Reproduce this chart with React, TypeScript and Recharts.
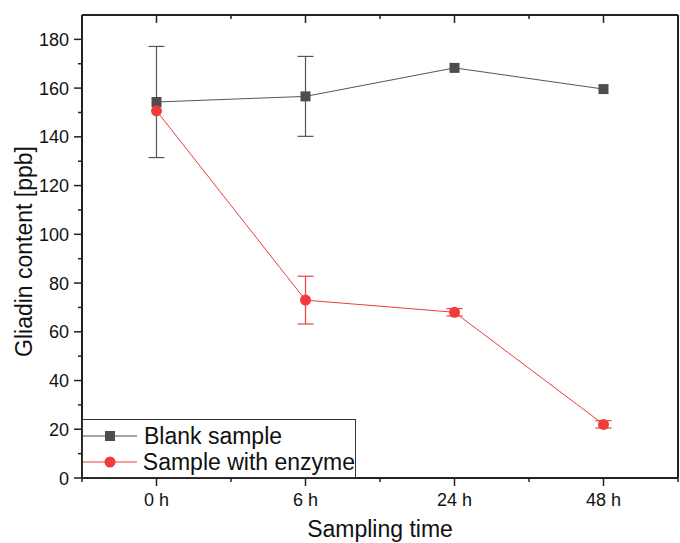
import { LineChart, Line, XAxis, YAxis, ErrorBar, Legend } from 'recharts'

const categories = ['0 h', '6 h', '24 h', '48 h']
const blank = [154.3, 156.6, 168.3, 159.6]
const blankErr = [22.8, 16.4, 0, 0]
const enzyme = [150.7, 73.0, 68.0, 22.0]
const enzymeErr = [0, 9.8, 1.5, 1.5]

const yTicks = [0, 10, 20, 30, 40, 50, 60, 70, 80, 90, 100, 110, 120, 130, 140, 150, 160, 170, 180]
const xTicks = [-0.5, 0, 0.5, 1, 1.5, 2, 2.5, 3, 3.5]

const BC = '#4d4d4d', RC = '#f03c3c', AX = '#222'
const FONT = '"Liberation Sans", Arial, sans-serif'

const data = categories.map((c, i) => ({
  x: i, name: c,
  blank: blank[i], blankErr: blankErr[i],
  enzyme: enzyme[i], enzymeErr: enzymeErr[i],
}))

const isMajorY = (v: number) => v % 20 === 0
const isMajorX = (v: number) => Number.isInteger(v)

const LeftTick = ({ x, y, payload }: any) => {
  const major = isMajorY(payload.value)
  return (
    <g>
      <line x1={x} x2={x - (major ? 8 : 4)} y1={y} y2={y} stroke={AX} strokeWidth={1.5} />
      {major && <text x={x - 13} y={y} dy={6.5} textAnchor="end" fontSize={18} fill="#111" fontFamily={FONT}>{payload.value}</text>}
    </g>
  )
}

const RightTick = ({ x, y, payload }: any) => {
  const major = isMajorY(payload.value)
  return <line x1={x} x2={x - (major ? 8 : 4)} y1={y} y2={y} stroke={AX} strokeWidth={1.5} />
}

const BottomTick = ({ x, y, payload }: any) => {
  const major = isMajorX(payload.value)
  return (
    <g>
      <line x1={x} x2={x} y1={y} y2={y + (major ? 8 : 4)} stroke={AX} strokeWidth={1.5} />
      {major && <text x={x} y={y + 28} textAnchor="middle" fontSize={18} fill="#111" fontFamily={FONT}>{categories[payload.value]}</text>}
    </g>
  )
}

const TopTick = ({ x, y, payload }: any) => {
  const major = isMajorX(payload.value)
  return <line x1={x} x2={x} y1={y} y2={y + (major ? 8 : 4)} stroke={AX} strokeWidth={1.5} />
}

const YLabel = ({ viewBox }: any) => {
  const cx = viewBox.x + 24
  const cy = viewBox.y + viewBox.height / 2 + 5
  return (
    <text x={cx} y={cy} dy={8} transform={`rotate(-90, ${cx}, ${cy})`} textAnchor="middle"
      fontSize={23} fill="#111" fontFamily={FONT}>Gliadin content [ppb]</text>
  )
}

const Square = ({ cx, cy }: any) => <rect x={cx - 5} y={cy - 5} width={10} height={10} fill={BC} />
const Dot = ({ cx, cy }: any) => <circle cx={cx} cy={cy} r={5.5} fill={RC} />

const legendItems = [
  { label: 'Blank sample', color: BC, shape: 'square' },
  { label: 'Sample with enzyme', color: RC, shape: 'circle' },
]

const LegendBox = () => (
  <div style={{ width: 272, height: 57, border: '1px solid #333', background: '#fff', fontFamily: FONT, boxSizing: 'content-box' }}>
    {legendItems.map((it, i) => (
      <div key={i} style={{ display: 'flex', alignItems: 'center', height: 26, marginTop: i === 0 ? 3 : 0 }}>
        <svg width={56} height={26}>
          <line x1={0} x2={54} y1={13} y2={13} stroke={it.color} strokeWidth={1} />
          {it.shape === 'square'
            ? <rect x={22} y={8} width={10} height={10} fill={it.color} />
            : <circle cx={27} cy={13} r={5.5} fill={it.color} />}
        </svg>
        <span style={{ fontSize: 23, color: '#111', marginLeft: 5, whiteSpace: 'nowrap' }}>{it.label}</span>
      </div>
    ))}
  </div>
)

export default function App() {
  return (
    <div style={{ position: 'absolute', left: 0, top: 0, background: '#fff' }}>
      <LineChart width={680} height={543} data={data} margin={{ top: 0, right: 0, left: 0, bottom: 0 }}>
        <XAxis dataKey="x" type="number" domain={[-0.5, 3.5]} ticks={xTicks} interval={0}
          height={65} tickSize={0} tickMargin={0} tick={<BottomTick />}
          axisLine={{ stroke: AX, strokeWidth: 2 }}
          label={{ value: 'Sampling time', position: 'insideBottom', offset: 6, fontSize: 23, fill: '#111', fontFamily: FONT }} />
        <XAxis xAxisId="top" orientation="top" dataKey="x" type="number" domain={[-0.5, 3.5]} ticks={xTicks} interval={0}
          height={15} tickSize={0} tickMargin={0} tick={<TopTick />}
          axisLine={{ stroke: AX, strokeWidth: 2 }} />
        <YAxis type="number" domain={[0, 190]} ticks={yTicks} interval={0} width={82}
          tickSize={0} tickMargin={0} tick={<LeftTick />}
          axisLine={{ stroke: AX, strokeWidth: 2 }}
          label={<YLabel />} />
        <YAxis yAxisId="right" orientation="right" type="number" domain={[0, 190]} ticks={yTicks} interval={0} width={2}
          tickSize={0} tickMargin={0} tick={<RightTick />}
          axisLine={{ stroke: AX, strokeWidth: 2 }} />
        <Legend layout="vertical" align="center" verticalAlign="middle" content={<LegendBox />}
          wrapperStyle={{ left: 82, top: 419, width: 274, height: 59 }} />
        <Line dataKey="blank" stroke="#555" strokeWidth={1} dot={<Square />} activeDot={false} isAnimationActive={false}>
          <ErrorBar dataKey="blankErr" direction="y" width={8} stroke="#555" strokeWidth={1.2} isAnimationActive={false} />
        </Line>
        <Line dataKey="enzyme" stroke={RC} strokeWidth={1} dot={<Dot />} activeDot={false} isAnimationActive={false}>
          <ErrorBar dataKey="enzymeErr" direction="y" width={8} stroke={RC} strokeWidth={1.2} isAnimationActive={false} />
        </Line>
      </LineChart>
    </div>
  )
}
